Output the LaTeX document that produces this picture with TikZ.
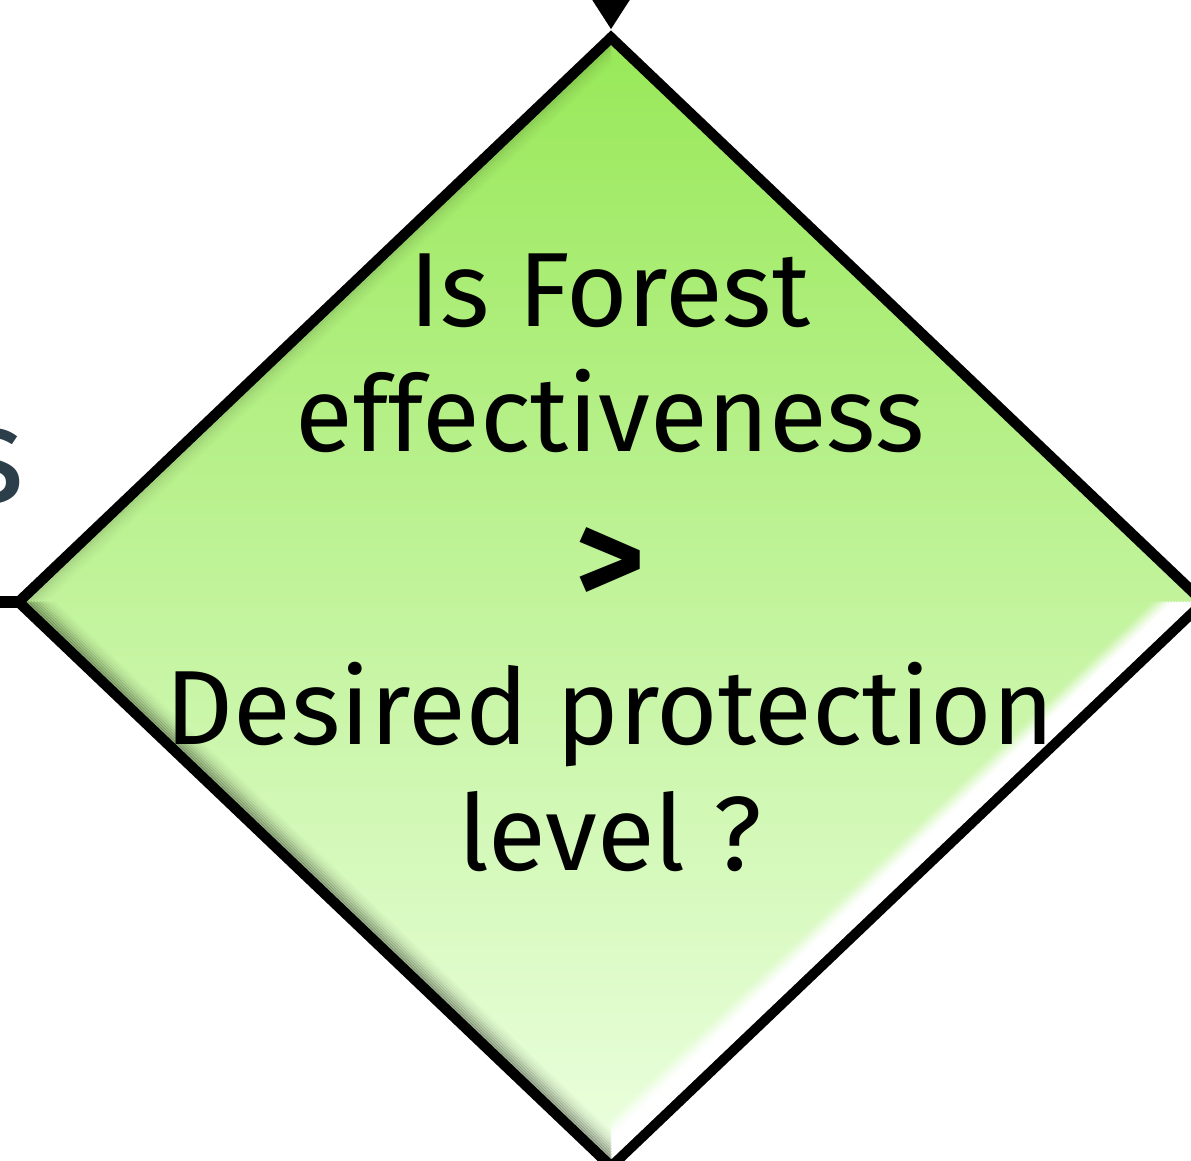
\documentclass[tikz,border=0pt]{standalone}
\usepackage{fontspec}
\setmainfont{Fira Sans}
\usetikzlibrary{shapes.geometric,arrows.meta,calc}
\definecolor{DecTop}{RGB}{152,232,88}
\definecolor{DecMid}{RGB}{190,250,150}
\definecolor{DecBot}{RGB}{236,255,224}
\definecolor{LabelSlate}{RGB}{44,62,74}

\begin{document}
\begin{tikzpicture}[
    x=0.01cm, y=-0.01cm,
    every node/.style={font=\fontsize{30}{35.6}\selectfont},
    decision/.style={diamond, inner sep=0pt, outer sep=0pt, minimum width=11.84cm, minimum height=11.28cm,
                     top color=DecTop, middle color=DecMid, bottom color=DecBot, draw=black, line width=3pt},
    flowline/.style={line width=3.6pt, black},
    bevelline/.style={line width=0.024cm}
]
\useasboundingbox (0,0) rectangle (1191,1161);

\node[decision] (check) at (611,602) {};

% bevel of the diamond
\foreach \s/\o in {0.985/1,0.98/1,0.975/1,0.97/1,0.965/1,0.96/1,0.955/1,0.95/1,0.945/0.9,0.94/0.75,0.935/0.6,0.93/0.45,0.925/0.3,0.92/0.18,0.915/0.08}
    \draw[bevelline, white, opacity=\o] ($(check.center)!\s!(check.east)$) -- ($(check.center)!\s!(check.south)$);
\foreach \s/\o in {0.985/0.3,0.98/0.26,0.975/0.22,0.97/0.18,0.965/0.14,0.96/0.1,0.955/0.07,0.95/0.05,0.945/0.03,0.94/0.015}
    \draw[bevelline, black, opacity=\o] ($(check.center)!\s!(check.west)$) -- ($(check.center)!\s!(check.south)$);
\foreach \s/\o in {0.985/0.1,0.98/0.08,0.975/0.06,0.97/0.045,0.965/0.03,0.96/0.02,0.955/0.01}
    \draw[bevelline, black, opacity=\o] ($(check.center)!\s!(check.west)$) -- ($(check.center)!\s!(check.north)$);

\coordinate (above) at (611,-90);
\coordinate (leftin) at (-90,602);
\draw[flowline, -{Triangle[length=0.5cm,width=0.6cm]}, shorten >=0.08cm] (above) -- (check.north);
\draw[flowline] (leftin) -- (check.west);

\node[font=\fontsize{39}{45}\selectfont, text=LabelSlate, anchor=base east, inner sep=0pt] (yeslabel) at (25,502) {s};

\node[align=center, anchor=base, inner sep=0pt] (question) at (610,870)
    {Is Forest\\ effectiveness\\[0.28cm] {\fontsize{38}{35.6}\selectfont\textbf{>}}\\[0.15cm] Desired protection\\ level ?};
\end{tikzpicture}
\end{document}
